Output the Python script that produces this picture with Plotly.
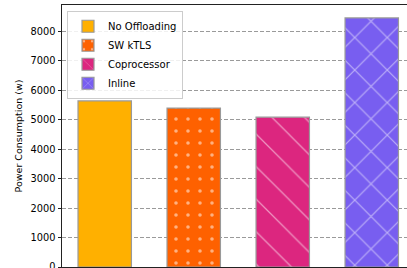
import plotly.graph_objects as go

categories = ["No Offloading", "SW kTLS", "Coprocessor", "Inline"]
power_w = [5640, 5400, 5090, 8460]
bar_colors = ["#FFB000", "#FE6100", "#DC267F", "#785EF0"]
patterns = ["", ".", "\\", "x"]
y_ticks = [0, 1000, 2000, 3000, 4000, 5000, 6000, 7000, 8000]

pattern_sizes = {"": 8, ".": 12, "\\": 23, "x": 23}
pattern_solid = {"": 0.3, ".": 0.07, "\\": 0.055, "x": 0.1}

fig = go.Figure()
for i, (cat, val, col, pat) in enumerate(zip(categories, power_w, bar_colors, patterns)):
    fig.add_trace(go.Bar(
        x=[i], y=[val], name=cat, width=0.6,
        marker=dict(
            color=col,
            line=dict(color="#999999", width=1.2),
            pattern=dict(shape=pat, fgcolor="white", bgcolor=col,
                         size=pattern_sizes[pat], solidity=pattern_solid[pat]),
        ),
    ))

font_family = "DejaVu Sans"
fig.update_layout(
    width=407, height=268,
    margin=dict(l=62, r=0, t=5, b=1, autoexpand=False),
    plot_bgcolor="white", paper_bgcolor="white",
    font=dict(family=font_family, size=9.7, color="black"),
    barmode="overlay",
    showlegend=True,
    legend=dict(
        x=0.0145, y=0.978, xanchor="left", yanchor="top",
        bgcolor="rgba(255,255,255,0.85)", bordercolor="#cccccc", borderwidth=1,
        font=dict(size=10, family=font_family),
        tracegroupgap=0, itemwidth=30,
    ),
    xaxis=dict(
        range=[-0.48, 3.396], showticklabels=False, ticks="",
        showgrid=False, zeroline=False, automargin=False,
        showline=True, linecolor="#222222", linewidth=1, mirror=True,
    ),
    yaxis=dict(
        range=[0, 8900], tickvals=y_ticks, ticks="outside", ticklen=3.5,
        tickcolor="#222222", tickwidth=1, ticklabeloverflow="allow",
        automargin=False,
        showgrid=True, gridcolor="#9a9a9a", gridwidth=1, griddash="4px,2px",
        zeroline=False, showline=True, linecolor="#222222", linewidth=1,
        title=dict(text="Power Consumption (w)", font=dict(size=9.5), standoff=6),
        tickfont=dict(size=9.8),
    ),
)

fig.write_html(
    "out.html",
    config={"displayModeBar": False},
    post_script="document.body.style.margin='0';document.body.style.overflow='hidden';",
)
